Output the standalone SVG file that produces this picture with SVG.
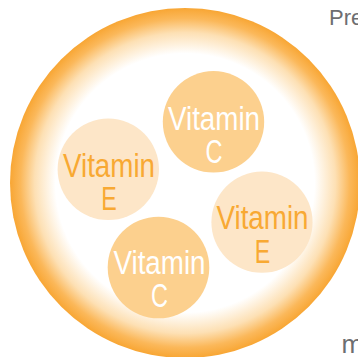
<svg xmlns="http://www.w3.org/2000/svg" width="358" height="357" viewBox="0 0 358 357">
<defs>
<radialGradient id="cell" cx="0.5" cy="0.5" r="0.5">
<stop offset="0" stop-color="#ffffff"/>
<stop offset="0.74" stop-color="#ffffff"/>
<stop offset="0.86" stop-color="#fde0b4"/>
<stop offset="0.94" stop-color="#fbb85a"/>
<stop offset="1" stop-color="#f8a634"/>
</radialGradient>
<style>
.vc{fill:#fcd08e}
.ve{fill:#fde6c8}
.t{font-family:"Liberation Sans",Arial,sans-serif;font-size:33px;text-anchor:middle}
.tc{fill:#ffffff}
.te{fill:#f8a933}
.g{font-family:"Liberation Sans",Arial,sans-serif;fill:#6d6e71}
</style>
</defs>
<rect width="358" height="357" fill="#ffffff"/>
<g id="cell-body">
<circle cx="185" cy="183" r="175" fill="url(#cell)"/>
</g>
<g id="connectors"/>
<g id="vitC1">
<circle class="vc" cx="213.5" cy="121.8" r="50.7"/>
<text class="t tc" x="214" y="129.5" textLength="92" lengthAdjust="spacingAndGlyphs">Vitamin</text>
<text class="t tc" x="214" y="162.5" textLength="17" lengthAdjust="spacingAndGlyphs">C</text>
</g>
<g id="vitE1">
<circle class="ve" cx="108.3" cy="169.3" r="50.7"/>
<text class="t te" x="109" y="176.7" textLength="92" lengthAdjust="spacingAndGlyphs">Vitamin</text>
<text class="t te" x="109" y="210" textLength="15.5" lengthAdjust="spacingAndGlyphs">E</text>
</g>
<g id="vitE2">
<circle class="ve" cx="262" cy="222.2" r="50.6"/>
<text class="t te" x="262.5" y="229.3" textLength="92" lengthAdjust="spacingAndGlyphs">Vitamin</text>
<text class="t te" x="262.5" y="262.7" textLength="15.5" lengthAdjust="spacingAndGlyphs">E</text>
</g>
<g id="vitC2">
<circle class="vc" cx="158.5" cy="267.5" r="50.8"/>
<text class="t tc" x="159.5" y="274" textLength="92" lengthAdjust="spacingAndGlyphs">Vitamin</text>
<text class="t tc" x="159.5" y="307.3" textLength="17" lengthAdjust="spacingAndGlyphs">C</text>
</g>
<g id="labels">
<text class="g" x="329" y="24.5" font-size="22">Pre</text>
<text class="g" x="341.5" y="353" font-size="26">m</text>
</g>
</svg>
